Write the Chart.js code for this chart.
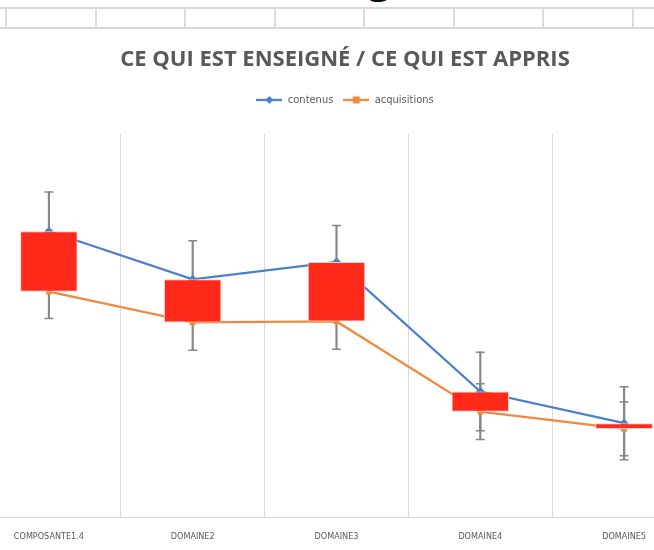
<!DOCTYPE html>
<html lang="fr">
<head>
  <meta charset="UTF-8">
  <title>Ce qui est enseigné / ce qui est appris</title>
  <script src="https://cdn.jsdelivr.net/npm/chart.js@4"></script>
  <style>
    body {
      margin: 0;
      background: #fff;
    }
    .page {
      position: relative;
      width: 654px;
      height: 550px;
      overflow: hidden;
      background: #fff;
    }
    /* bande de cellules du tableur au-dessus du graphique */
    .sheet {
      position: absolute;
      left: 0;
      top: 7px;
      width: 654px;
      height: 18px;
      border-top: 2px solid #d9d9d9;
      border-bottom: 2px solid #d9d9d9;
    }
    .sheet span {
      position: absolute;
      top: 0;
      bottom: 0;
      width: 2px;
      background: #dcdcdc;
    }
    .cut {
      position: absolute;
      left: 368px;
      top: -50px;
      font: bold 40px 'Open Sans', sans-serif;
      color: #111;
    }
    .chart-box {
      position: absolute;
      left: -23px;
      top: 30px;
      width: 736px;
      height: 526px;
    }
  </style>
</head>
<body>
  <div class="page">
    <div class="cut">g</div>
    <div class="sheet" id="sheet"></div>
    <div class="chart-box"><canvas id="chart"></canvas></div>
  </div>

  <script>
    const categories = ['COMPOSANTE1.4', 'DOMAINE2', 'DOMAINE3', 'DOMAINE4', 'DOMAINE5'];
    const contenus = [2.98, 2.48, 2.66, 1.31, 0.98];
    const acquisitions = [2.35, 2.03, 2.04, 1.10, 0.92];
    const errContenus = [0.41, 0.40, 0.38, 0.41, 0.38];
    const errAcquisitions = [0.28, 0.29, 0.29, 0.29, 0.28];

    const BLUE = '#4a7fcc';
    const ORANGE = '#ef8a3f';
    const GREY = '#878787';
    const TEXT = '#595959';

    // cellules du tableur
    const sheet = document.getElementById('sheet');
    [6, 96, 185, 275, 364, 454, 543, 633].forEach(x => {
      const s = document.createElement('span');
      s.style.left = (x - 1) + 'px';
      sheet.appendChild(s);
    });

    // icône de légende : trait + marqueur
    function legendIcon(color, shape) {
      const c = document.createElement('canvas');
      c.width = 26;
      c.height = 10;
      const g = c.getContext('2d');
      g.strokeStyle = color;
      g.lineWidth = 2.25;
      g.beginPath();
      g.moveTo(0, 5);
      g.lineTo(26, 5);
      g.stroke();
      g.fillStyle = color;
      if (shape === 'diamond') {
        g.beginPath();
        g.moveTo(13, 1);
        g.lineTo(17, 5);
        g.lineTo(13, 9);
        g.lineTo(9, 5);
        g.closePath();
        g.fill();
      } else {
        g.fillRect(9.5, 1.5, 7, 7);
      }
      return c;
    }

    const lowHigh = (vals, errs) => vals.map((v, i) => [v - errs[i], v + errs[i]]);
    const caps = (vals, errs) => {
      const pts = [];
      vals.forEach((v, i) => {
        pts.push({ x: categories[i], y: v + errs[i] });
        pts.push({ x: categories[i], y: v - errs[i] });
      });
      return pts;
    };

    // espace entre la légende et la zone de tracé
    const legendGap = {
      id: 'legendGap',
      beforeInit(chart) {
        const fit = chart.legend.fit;
        chart.legend.fit = function () {
          fit.bind(chart.legend)();
          this.height += 18;
        };
      }
    };

    new Chart(document.getElementById('chart'), {
      type: 'bar',
      data: {
        labels: categories,
        datasets: [
          {
            label: 'barres',
            data: categories.map((c, i) => [acquisitions[i], contenus[i]]),
            backgroundColor: '#ff2a1a',
            borderColor: '#eed3d0',
            borderWidth: 1,
            borderSkipped: false,
            grouped: false,
            barPercentage: 0.4,
            categoryPercentage: 1,
            order: 0
          },
          {
            type: 'line',
            label: 'contenus',
            data: contenus,
            borderColor: BLUE,
            backgroundColor: BLUE,
            borderWidth: 2.25,
            pointStyle: 'rectRot',
            pointRadius: 4.5,
            pointBorderWidth: 0,
            tension: 0,
            order: 1
          },
          {
            type: 'line',
            label: 'acquisitions',
            data: acquisitions,
            borderColor: ORANGE,
            backgroundColor: ORANGE,
            borderWidth: 2.25,
            pointStyle: 'rect',
            pointRadius: 4,
            pointBorderWidth: 0,
            tension: 0,
            order: 1
          },
          {
            label: 'err contenus',
            data: lowHigh(contenus, errContenus),
            backgroundColor: GREY,
            barThickness: 1.5,
            grouped: false,
            order: 2
          },
          {
            label: 'err acquisitions',
            data: lowHigh(acquisitions, errAcquisitions),
            backgroundColor: GREY,
            barThickness: 1.5,
            grouped: false,
            order: 2
          },
          {
            type: 'line',
            label: 'caps',
            data: caps(contenus, errContenus).concat(caps(acquisitions, errAcquisitions)),
            showLine: false,
            pointStyle: 'line',
            pointRadius: 4.5,
            pointBorderWidth: 1.5,
            pointBorderColor: GREY,
            order: 2
          }
        ]
      },
      options: {
        responsive: true,
        maintainAspectRatio: false,
        animation: false,
        layout: { padding: 0, autoPadding: false },
        scales: {
          x: {
            offset: true,
            grid: { color: '#d9d9d9', lineWidth: 1, drawTicks: false, offset: true },
            border: { color: '#d9d9d9', width: 1 },
            ticks: {
              color: TEXT,
              font: { family: 'DejaVu Sans Condensed', size: 9 },
              padding: 14,
              maxRotation: 0,
              autoSkip: false
            }
          },
          y: {
            position: 'right',
            min: 0,
            max: 4,
            grid: { display: false },
            border: { display: false },
            ticks: { display: false },
            afterFit(scale) { scale.width = 17; }
          }
        },
        plugins: {
          tooltip: { enabled: false },
          title: {
            display: true,
            text: 'CE QUI EST ENSEIGNÉ / CE QUI EST APPRIS',
            color: TEXT,
            font: { family: 'Open Sans', size: 22, weight: 'bold' },
            padding: { top: 17, bottom: 11 }
          },
          legend: {
            position: 'top',
            labels: {
              color: TEXT,
              font: { family: 'DejaVu Sans Condensed', size: 11 },
              usePointStyle: true,
              pointStyleWidth: 26,
              padding: 10,
              generateLabels: () => [
                { text: 'contenus', pointStyle: legendIcon(BLUE, 'diamond'), fontColor: TEXT, lineWidth: 0, strokeStyle: 'transparent', fillStyle: BLUE, datasetIndex: 1 },
                { text: 'acquisitions', pointStyle: legendIcon(ORANGE, 'square'), fontColor: TEXT, lineWidth: 0, strokeStyle: 'transparent', fillStyle: ORANGE, datasetIndex: 2 }
              ]
            }
          }
        }
      },
      plugins: [legendGap]
    });
  </script>
</body>
</html>
